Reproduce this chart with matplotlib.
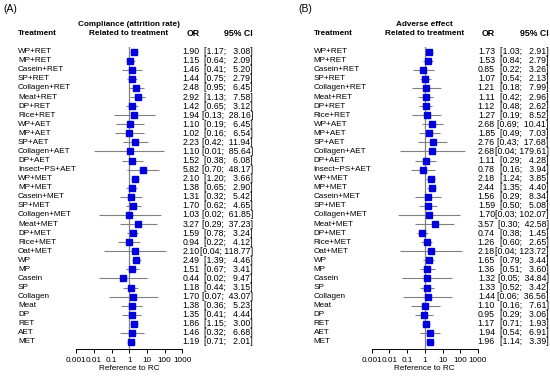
import matplotlib
matplotlib.use("Agg")
import matplotlib.pyplot as plt
from matplotlib import transforms
import numpy as np

plt.rcParams['font.family'] = ['Liberation Sans', 'DejaVu Sans']

treatments = ['WP+RET', 'MP+RET', 'Casein+RET', 'SP+RET', 'Collagen+RET', 'Meat+RET',
              'DP+RET', 'Rice+RET', 'WP+AET', 'MP+AET', 'SP+AET', 'Collagen+AET',
              'DP+AET', 'Insect\u2212PS+AET', 'WP+MET', 'MP+MET', 'Casein+MET', 'SP+MET',
              'Collagen+MET', 'Meat+MET', 'DP+MET', 'Rice+MET', 'Oat+MET', 'WP', 'MP',
              'Casein', 'SP', 'Collagen', 'Meat', 'DP', 'RET', 'AET', 'MET']

# (A) compliance
or_a = [1.90, 1.15, 1.46, 1.44, 2.48, 2.92, 1.42, 1.94, 1.10, 1.02, 2.23, 1.10, 1.52,
        5.82, 2.10, 1.38, 1.31, 1.70, 1.03, 3.27, 1.59, 0.94, 2.10, 2.49, 1.51, 0.44,
        1.18, 1.70, 1.38, 1.35, 1.86, 1.46, 1.19]
lo_a = [1.17, 0.64, 0.41, 0.75, 0.95, 1.13, 0.65, 0.13, 0.19, 0.16, 0.42, 0.01, 0.38,
        0.70, 1.20, 0.65, 0.32, 0.62, 0.02, 0.29, 0.78, 0.22, 0.04, 1.39, 0.67, 0.02,
        0.44, 0.07, 0.36, 0.41, 1.15, 0.32, 0.71]
hi_a = [3.08, 2.09, 5.20, 2.79, 6.45, 7.58, 3.12, 28.16, 6.45, 6.54, 11.94, 85.64, 6.08,
        48.17, 3.66, 2.90, 5.42, 4.65, 61.85, 37.23, 3.24, 4.12, 118.77, 4.46, 3.41, 9.47,
        3.15, 43.07, 5.23, 4.44, 3.00, 6.68, 2.01]

# (B) adverse effect
or_b = [1.73, 1.53, 0.85, 1.07, 1.21, 1.11, 1.12, 1.27, 2.68, 1.85, 2.76, 2.68, 1.11,
        0.78, 2.18, 2.44, 1.56, 1.59, 1.70, 3.57, 0.74, 1.26, 2.18, 1.65, 1.36, 1.32,
        1.33, 1.44, 1.10, 0.95, 1.17, 1.94, 1.96]
lo_b = [1.03, 0.84, 0.22, 0.54, 0.18, 0.42, 0.48, 0.19, 0.69, 0.49, 0.43, 0.04, 0.29,
        0.16, 1.24, 1.35, 0.29, 0.50, 0.03, 0.30, 0.38, 0.60, 0.04, 0.79, 0.51, 0.05,
        0.52, 0.06, 0.16, 0.29, 0.71, 0.54, 1.14]
hi_b = [2.91, 2.79, 3.26, 2.13, 7.99, 2.96, 2.62, 8.52, 10.41, 7.03, 17.68, 179.61, 4.28,
        3.94, 3.85, 4.40, 8.34, 5.08, 102.07, 42.58, 1.45, 2.65, 123.72, 3.44, 3.60, 34.84,
        3.42, 36.56, 7.61, 3.06, 1.93, 6.91, 3.39]

ticks = [0.001, 0.01, 0.1, 1, 10, 100, 1000]
tick_labels = ['0.001', '0.01', '0.1', '1', '10', '100', '1000']

W, H = 550.0, 377.0
fs_lab = 5.9
fs_num = 6.3
sq_col = '#0000DD'


def fx(px):
    return px / W


def fy(py):
    return 1 - py / H


def panel(fig, dx, tag, title, ors, los, his):
    n = len(treatments)
    top_px, bot_px = 46.5, 349.3
    ax = fig.add_axes([fx(76 + dx), fy(bot_px), fx(106.5), (bot_px - top_px) / H])
    y = np.arange(n)
    ax.set_xscale('log')
    ax.set_xlim(0.001, 1000)
    ax.set_ylim(32.81, -0.573)
    ax.axvline(1, color='#808080', lw=0.9, zorder=1)
    ax.hlines(y, los, his, color='#808080', lw=0.8, zorder=2)
    ax.plot(ors, y, 's', color=sq_col, ms=4.8, mec=sq_col, zorder=3)
    for s in ['top', 'right', 'left']:
        ax.spines[s].set_visible(False)
    ax.spines['bottom'].set_linewidth(0.7)
    ax.set_yticks([])
    ax.set_xticks(ticks)
    ax.set_xticklabels(tick_labels)
    ax.xaxis.set_minor_locator(matplotlib.ticker.NullLocator())
    ax.tick_params(axis='x', length=3, width=0.7, labelsize=fs_lab, pad=2.5)
    ax.set_xlabel('Reference to RC', fontsize=fs_lab, labelpad=1)

    # text columns in figure x / data y
    tr = transforms.blended_transform_factory(fig.transFigure, ax.transData)
    for i in range(n):
        ax.text(fx(18 + dx), i, treatments[i], transform=tr, fontsize=fs_lab,
                ha='left', va='center', clip_on=False)
        ax.text(fx(199.5 + dx), i, '%.2f' % ors[i], transform=tr, fontsize=fs_num,
                ha='right', va='center', clip_on=False)
        ci = '[%.2f; %s]' % (los[i], ('%.2f' % his[i]).rjust(6))
        ax.text(fx(253 + dx), i, ci, transform=tr, fontsize=fs_num,
                ha='right', va='center', clip_on=False)

    fig.text(fx(18 + dx), fy(33.5), 'Treatment', fontsize=fs_lab, weight='bold',
             ha='left', va='center')
    fig.text(fx(129 + dx), fy(24.5), title, fontsize=fs_lab, weight='bold',
             ha='center', va='center')
    fig.text(fx(129 + dx), fy(33.5), 'Related to treatment', fontsize=fs_lab,
             weight='bold', ha='center', va='center')
    fig.text(fx(199.5 + dx), fy(33.5), 'OR', fontsize=fs_num, weight='bold',
             ha='right', va='center')
    fig.text(fx(253 + dx), fy(33.5), '95% CI', fontsize=fs_num, weight='bold',
             ha='right', va='center')
    fig.text(fx(3 + dx), fy(9), tag, fontsize=7.5, ha='left', va='center')


fig = plt.figure(figsize=(5.5, 3.77), dpi=100)
panel(fig, 0, '(A)', 'Compliance (attrition rate)', or_a, lo_a, hi_a)
panel(fig, 295.5, '(B)', 'Adverse effect', or_b, lo_b, hi_b)
fig.savefig('out.png', dpi=100)
